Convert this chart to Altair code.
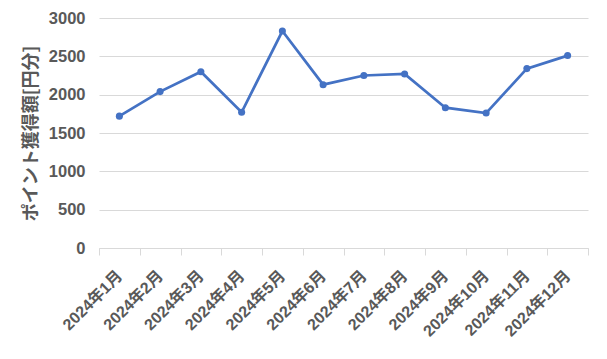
import altair as alt
import pandas as pd

months = ["2024年1月", "2024年2月", "2024年3月", "2024年4月", "2024年5月", "2024年6月",
          "2024年7月", "2024年8月", "2024年9月", "2024年10月", "2024年11月", "2024年12月"]
points = [1720, 2040, 2300, 1770, 2830, 2130, 2250, 2270, 1830, 1760, 2340, 2510]
y_ticks = [0, 500, 1000, 1500, 2000, 2500, 3000]

df = pd.DataFrame({"month": months, "points": points})

label_color = "#595959"
base = alt.Chart(df).encode(
    x=alt.X(
        "month:N",
        sort=months,
        scale=alt.Scale(type="band", paddingInner=0, paddingOuter=0),
        axis=alt.Axis(
            title=None,
            labelAngle=-45,
            labelAlign="right",
            labelBaseline="middle",
            labelFont="Liberation Sans, Noto Sans CJK JP",
            labelFontSize=16,
            labelFontWeight="bold",
            labelColor=label_color,
            labelPadding=18,
            tickBand="extent",
            tickColor="#d9d9d9",
            tickSize=7,
            domainColor="#d9d9d9",
            domainWidth=1,
            grid=False,
        ),
    ),
    y=alt.Y(
        "points:Q",
        scale=alt.Scale(domain=[0, 3000]),
        axis=alt.Axis(
            title="ポイント獲得額[円分]",
            titleFont="Noto Sans CJK JP",
            titleFontSize=18,
            titleFontWeight="bold",
            titleColor=label_color,
            titlePadding=8,
            values=y_ticks,
            format="d",
            labelFont="Liberation Sans",
            labelFontSize=16.5,
            labelFontWeight="bold",
            labelColor=label_color,
            labelPadding=14,
            ticks=False,
            domain=False,
            gridColor="#d9d9d9",
            gridWidth=1,
        ),
    ),
)

line = base.mark_line(color="#4472C4", strokeWidth=2.75)
dots = base.mark_circle(color="#4472C4", size=50, opacity=1)

chart = (line + dots).properties(
    width=489,
    height=230,
    padding={"left": 91, "top": 10, "right": 11, "bottom": 103},
    autosize=alt.AutoSizeParams(type="none"),
    background="white",
).configure_view(stroke=None)

chart.save("out.html", embed_options={"renderer": "svg", "actions": False})
